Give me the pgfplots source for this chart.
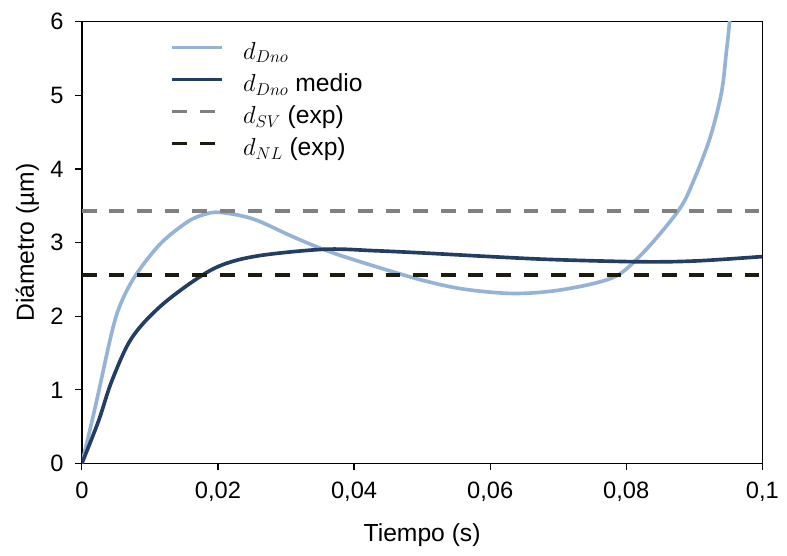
\documentclass[border=0pt]{standalone}
\usepackage{pgfplots}
\pgfplotsset{compat=1.18}
\usepackage{fontspec}
\setmainfont{Liberation Sans}
\DeclareMathSizes{25}{25}{19}{15}
\definecolor{lightb}{RGB}{149,179,215}
\definecolor{darkb}{RGB}{36,62,99}
\definecolor{dgray}{RGB}{128,128,128}
\definecolor{dblack}{RGB}{29,27,16}
\begin{document}
\fontsize{25}{30}\selectfont
\begin{tikzpicture}
\begin{axis}[
  name=ax,
  scale only axis,
  width=690pt, height=448pt,
  xmin=0, xmax=0.1, ymin=0, ymax=6,
  xtick={0,0.02,0.04,0.06,0.08,0.1},
  xticklabels={0,{0,02},{0,04},{0,06},{0,08},{0,1}},
  ytick={0,1,2,3,4,5,6},
  tick align=outside, tick pos=left,
  major tick length=7pt,
  tick style={black, line width=1.2pt},
  axis line style={black, line width=1.6pt},
  /pgf/number format/assume math mode=true,
  tick label style={font=\fontsize{24}{28}\selectfont},
  yticklabel style={xshift=-3pt},
  xticklabel style={yshift=-3pt},
  xlabel={Tiempo (s)}, ylabel={Diámetro (µm)},
  label style={font=\fontsize{25}{30}\selectfont},
  xlabel style={at={(axis description cs:0.5,-0.163)}, anchor=center},
  ylabel style={at={(axis description cs:-0.08,0.5)}, anchor=center},
  legend style={draw=none, fill=none, at={(axis description cs:0.13,0.96)}, anchor=north west,
    font=\fontsize{25}{30}\selectfont, row sep=4.5pt, inner sep=0pt,
    nodes={inner sep=0pt, text height=20pt, text depth=8pt},
    /tikz/every odd column/.append style={column sep=20pt},
    legend cell align=left},
  legend image code/.code={\draw[#1] (0pt,6pt) -- (50pt,6pt);},
  clip=true,
]
\addplot[lightb, line width=3.7pt, smooth, tension=0.55] coordinates {
(0,0) (0.002,0.78) (0.0044,1.78) (0.0058,2.19) (0.008,2.57) (0.0116,2.99)
(0.0155,3.28) (0.0179,3.38) (0.0203,3.41) (0.0252,3.32) (0.031,3.08) (0.0363,2.88)
(0.043,2.68) (0.05,2.49) (0.056,2.37) (0.063,2.31) (0.069,2.34) (0.075,2.44)
(0.0788,2.56) (0.0817,2.79) (0.0846,3.08) (0.088,3.48) (0.0899,3.84)
(0.0923,4.42) (0.094,5.04) (0.0947,5.58) (0.0952,6.02) (0.0955,6.5)};
\addlegendentry{$d_{Dno}$}
\addplot[darkb, line width=3.7pt, smooth, tension=0.55] coordinates {
(0,0) (0.00246,0.58) (0.0044,1.12) (0.0073,1.70) (0.0116,2.14) (0.0174,2.54)
(0.0213,2.72) (0.0266,2.83) (0.0358,2.91) (0.043,2.89) (0.05,2.86) (0.06,2.81)
(0.0691,2.77) (0.0817,2.74) (0.09,2.75) (0.1,2.81)};
\addlegendentry{$d_{Dno}$ medio}
\addplot[dgray, line width=3.7pt, dash pattern=on 15pt off 13pt] coordinates {(0,3.43) (0.1,3.43)};
\addlegendentry{$d_{SV}$ (exp)}
\addplot[dblack, line width=3.7pt, dash pattern=on 15pt off 13pt] coordinates {(0,2.56) (0.1,2.56)};
\addlegendentry{$d_{NL}$ (exp)}
\end{axis}
\path (ax.south west) ++(-83pt,-85pt);
\path (ax.north east) ++(14pt,22pt);
\end{tikzpicture}
\end{document}
